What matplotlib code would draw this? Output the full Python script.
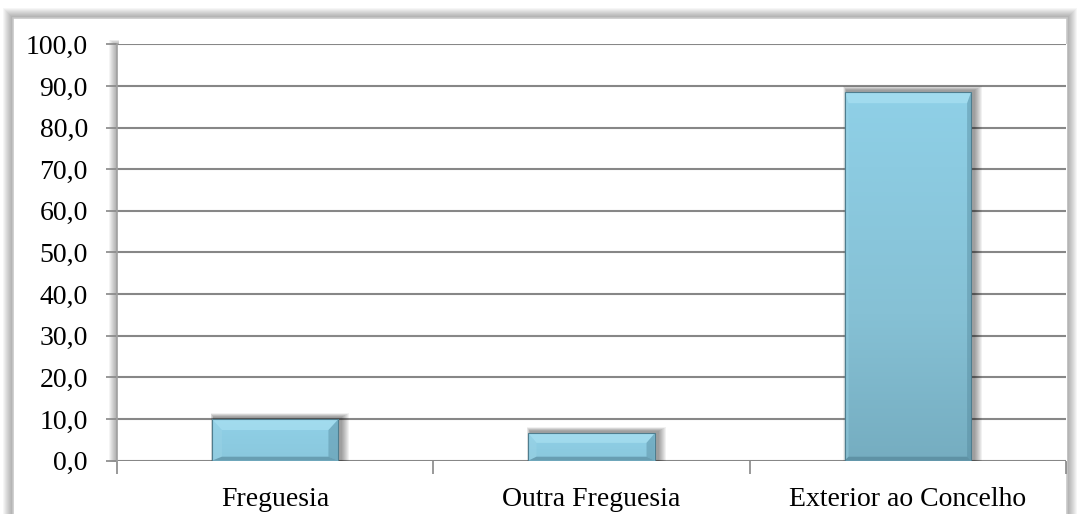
import numpy as np
import matplotlib
matplotlib.use("Agg")
import matplotlib.pyplot as plt
from matplotlib.patches import Rectangle, Polygon
from matplotlib.colors import LinearSegmentedColormap
from matplotlib.ticker import FuncFormatter, MultipleLocator

# Data
categories = ["Freguesia", "Outra Freguesia", "Exterior ao Concelho"]
values = [10.0, 6.6, 88.5]
y_ticks = [0, 10, 20, 30, 40, 50, 60, 70, 80, 90, 100]

W, H, DPI = 1078, 514, 100
fig = plt.figure(figsize=(W / DPI, H / DPI), dpi=DPI)
fig.patch.set_facecolor("white")

FONT = "Liberation Serif"
FS = 20


def px_rect(x0, y0, x1, y1):
    """Figure fraction box from top-left pixel coordinates."""
    return [x0 / W, 1 - y1 / H, (x1 - x0) / W, (y1 - y0) / H]


# Outer chart frame with soft shadow
frame_ax = fig.add_axes([0, 0, 1, 1])
frame_ax.set_xlim(0, W)
frame_ax.set_ylim(H, 0)
frame_ax.axis("off")
fx0, fy0, fx1, fy1 = 13, 18, 1067, 530
for i in range(10, 0, -1):
    frame_ax.add_patch(Rectangle((fx0 - i, fy0 - i), (fx1 - fx0) + 2 * i,
                                 (fy1 - fy0) + 2 * i, facecolor="#000000",
                                 edgecolor="none", alpha=0.035))
frame_ax.add_patch(Rectangle((fx0, fy0), fx1 - fx0, fy1 - fy0,
                             facecolor="white", edgecolor="#c8c8c8", lw=1.2))

# Plot area
ax = fig.add_axes(px_rect(117, 44.3, 1066, 460.7))
ax.set_facecolor("none")
ax.set_xlim(-0.5, 2.5)
ax.set_ylim(0, 100)
ax.set_zorder(2)

# Shadow band along the top and left edge of the plot area
for i in range(8, 0, -1):
    frame_ax.add_patch(Rectangle((117 - i, 44.3 - i * 0.6), 2 + i, 418 + i * 0.6,
                                 facecolor="#000000", edgecolor="none", alpha=0.045))
frame_ax.add_patch(Rectangle((117, 44.3), 950, 418, facecolor="white",
                             edgecolor="none"))

for s in ["top", "right", "bottom"]:
    ax.spines[s].set_visible(False)
ax.spines["left"].set_color("#a0a0a0")
ax.spines["left"].set_linewidth(1.2)

ax.yaxis.set_major_locator(plt.FixedLocator(y_ticks))
ax.yaxis.set_major_formatter(FuncFormatter(lambda v, p: f"{v:.1f}".replace(".", ",")))
ax.grid(axis="y", color="#878787", lw=1.5, zorder=0)
ax.set_axisbelow(True)
ax.tick_params(axis="y", direction="out", length=8, width=1.2, color="#878787",
               pad=13, labelsize=FS)

x = np.arange(len(categories))
ax.set_xticks(x)
ax.set_xticklabels(categories)
ax.xaxis.set_minor_locator(MultipleLocator(1, offset=0.5))
ax.tick_params(axis="x", which="major", length=0, pad=19, labelsize=FS)
ax.tick_params(axis="x", which="minor", direction="out", length=9, width=1.2,
               color="#878787")
for lab in ax.get_xticklabels() + ax.get_yticklabels():
    lab.set_fontfamily(FONT)

# Bars: base, gradient fill, bevel edges and drop shadow
bar_w = 0.40
bars = ax.bar(x, values, width=bar_w, color="#86c2d6", zorder=3,
              edgecolor="none")
fill_cmap = LinearSegmentedColormap.from_list(
    "fill", ["#6da3b6", "#86c1d5", "#8fd0e7"])

fig.canvas.draw()
to_px = ax.transData
to_data = ax.transData.inverted()

for rect, v in zip(bars, values):
    bx0 = rect.get_x()
    bx1 = bx0 + rect.get_width()
    (px0, py0), (px1, py1) = to_px.transform([(bx0, 0), (bx1, v)])

    # blurred shadow to the right and above
    for i in range(8, 0, -1):
        sx0, sy0 = to_data.transform((px0 + 2 - i * 0.4, py0))
        sx1, sy1 = to_data.transform((px1 + 3 + i, py1 + 2 + i * 0.5))
        ax.add_patch(Rectangle((sx0, sy0), sx1 - sx0, sy1 - sy0,
                               facecolor="#000000", edgecolor="none",
                               alpha=0.055, zorder=2.5))

    grad = np.linspace(0, 1, 256).reshape(-1, 1)
    ax.imshow(grad, cmap=fill_cmap, origin="lower", aspect="auto",
              extent=(bx0, bx1, 0, v), zorder=3.2,
              vmin=-0.2 if v > 50 else -2.5, vmax=1)

    top_b = min(11, (py1 - py0) * 0.35)
    side = 4 if v > 50 else min(10, (py1 - py0) * 0.3)
    bot_b = 4

    def poly(pts, color, alpha=1.0):
        d = to_data.transform(pts)
        ax.add_patch(Polygon(d, closed=True, facecolor=color, edgecolor="none",
                             alpha=alpha, zorder=3.4))

    # top bevel
    poly([(px0, py1), (px1, py1), (px1 - side, py1 - top_b),
          (px0 + side, py1 - top_b)], "#b9eaf8", 0.45)
    # left bevel
    poly([(px0, py1), (px0 + side, py1 - top_b), (px0 + side, py0 + bot_b),
          (px0, py0)], "#9fd6e8", 0.4)
    # right bevel
    poly([(px1, py1), (px1 - side, py1 - top_b), (px1 - side, py0 + bot_b),
          (px1, py0)], "#4f8296", 0.4)
    # bottom bevel
    poly([(px0, py0), (px0 + side, py0 + bot_b), (px1 - side, py0 + bot_b),
          (px1, py0)], "#4d7d90", 0.55)
    # thin outline
    ax.add_patch(Rectangle((bx0, 0), bx1 - bx0, v, facecolor="none",
                           edgecolor="#4f7d8e", lw=0.8, zorder=3.5))

fig.savefig("out.png", dpi=DPI, facecolor="white")
